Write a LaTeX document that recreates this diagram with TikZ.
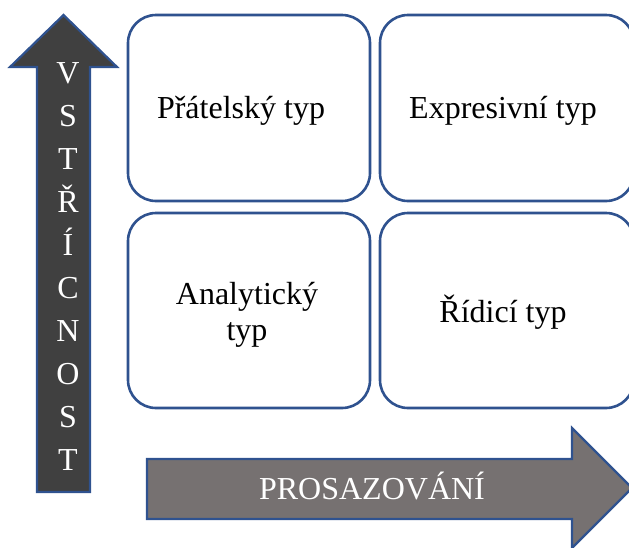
\documentclass[tikz,border=0pt]{standalone}
\usepackage{fontspec}
\setmainfont{Liberation Serif}
\definecolor{edgeblue}{HTML}{2F528F}
\definecolor{darkfill}{HTML}{404040}
\definecolor{greyfill}{HTML}{767171}
\begin{document}
\begin{tikzpicture}[x=1pt,y=-1pt,
  typebox/.style={draw=edgeblue, line width=2.6pt, fill=white, rounded corners=28pt},
  bigarrow/.style={draw=edgeblue, line width=2.2pt, line join=miter},
  boxtext/.style={font=\fontsize{32}{36}\selectfont, text=black, inner sep=0pt, align=center},
  arrowtext/.style={font=\fontsize{32}{36}\selectfont, text=white, inner sep=0pt, anchor=base}]
\useasboundingbox (0,0) rectangle (629,547);

% vertical arrow (VSTŘÍCNOST)
\draw[bigarrow, fill=darkfill]
  (37,492) -- (37,67) -- (10,67) -- (63.5,15) -- (117,67) -- (90,67) -- (90,492) -- cycle;
\foreach \ch [count=\i from 0] in {V,S,T,Ř,Í,C,N,O,S,T}
  \node[arrowtext] (v\i) at (68,{83+43*\i}) {\ch};

% horizontal arrow (PROSAZOVÁNÍ)
\draw[bigarrow, fill=greyfill]
  (147,459) -- (572,459) -- (572,428) -- (632,488) -- (572,548) -- (572,519) -- (147,519) -- cycle;
\node[arrowtext] (prosaz) at (372,499) {PROSAZOVÁNÍ};

% the four types
\draw[typebox] (128,15) rectangle (370,201);
\draw[typebox] (380,15) rectangle (634,201);
\draw[typebox] (128,213) rectangle (370,408);
\draw[typebox] (380,213) rectangle (634,408);

\node[boxtext, anchor=base] (friendly) at (241,118) {Přátelský typ};
\node[boxtext, anchor=base] (expressive) at (503,118) {Expresivní typ};
\node[boxtext, anchor=center] (analytic) at (247,315) {Analytický\\typ};
\node[boxtext, anchor=base] (driver) at (503,322) {Řídicí typ};
\end{tikzpicture}
\end{document}
